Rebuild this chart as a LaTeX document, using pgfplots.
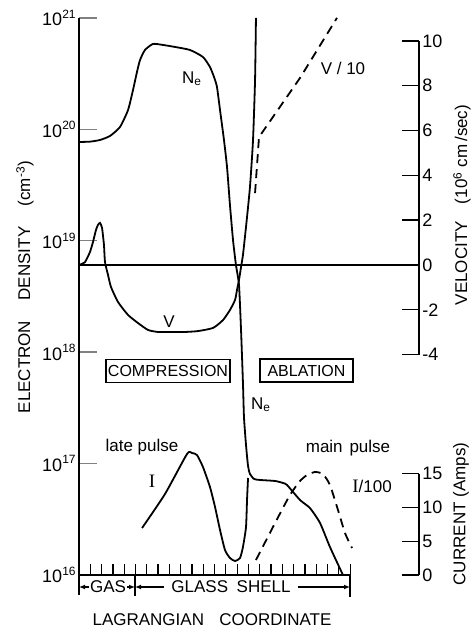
\documentclass[border=0pt]{standalone}
\usepackage{fontspec}
\setmainfont{Liberation Sans}
\newfontfamily\serif{Liberation Serif}
\usepackage{pgfplots}
\pgfplotsset{compat=1.18}
\usetikzlibrary{arrows.meta}

% 1 px of the scan = 0.5pt; x in tick units of the Lagrangian axis
\pgfplotsset{
  frame/.style={scale only axis, width=170pt, height=278.5pt,
    xmin=0, xmax=30.09, clip=false},
  curve/.style={black, line width=0.9pt, no marks, smooth, tension=0.35},
  dline/.style={black, line width=0.9pt, no marks, dash pattern=on 4.5pt off 3pt},
}

\begin{document}
\begin{tikzpicture}[font=\fontsize{8.5}{10}\selectfont]

% electron density (log10 of N_e)
\begin{axis}[frame, name=main, ymin=16, ymax=21,
  axis x line=none, axis y line*=left,
  ytick={16,...,21},
  yticklabels={10\textsuperscript{16},10\textsuperscript{17},10\textsuperscript{18},
    10\textsuperscript{19},10\textsuperscript{20},10\textsuperscript{21}},
  tick align=inside, major tick length=9pt,
  axis line style={line width=0.9pt}, ytick style={line width=0.7pt},
  yticklabel style={font=\fontsize{9}{10}\selectfont, inner sep=1pt}]
\addplot[curve] coordinates {
  (0,19.887) (0.97,19.890) (1.86,19.905) (2.74,19.941) (3.63,20.022)
  (4.34,20.174) (4.78,20.354) (5.13,20.515) (5.40,20.623) (5.84,20.713)
  (6.55,20.767) (7.43,20.758) (8.50,20.740) (9.82,20.713) (10.97,20.650)
  (11.59,20.560) (11.95,20.470) (12.21,20.381) (12.48,20.174) (12.83,19.905)
  (13.10,19.662) (13.36,19.321) (13.63,19.007) (13.89,18.783) (14.16,18.603)
  (14.34,18.199) (14.51,17.723) (14.60,17.418) (14.78,17.167) (14.96,16.978)
  (15.13,16.907) (15.49,16.862) (16.02,16.853) (17.35,16.844) (18.05,16.826)
  (18.41,16.808) (19.56,16.673) (20.44,16.601) (21.33,16.467) (22.21,16.251)
  (23.36,16.0)};
\draw[line width=0.9pt] (axis cs:0,16) -- (axis cs:24,16);
\pgfplotsinvokeforeach{1,...,24}{\draw[line width=0.6pt] (axis cs:#1,16) -- ++(0pt,5.5pt);}
\end{axis}

% velocity (10^6 cm/sec)
\begin{axis}[frame, ymin=-13.839, ymax=11.027, hide axis]
\addplot[black, line width=0.9pt] coordinates {(0,0) (30.09,0)};
\addplot[curve] coordinates {
  (0,0) (0.53,0.13) (0.97,0.58) (1.24,1.03) (1.50,1.56) (1.68,1.79)
  (1.86,1.88) (2.04,1.65) (2.21,0.89) (2.30,0.13) (2.57,-0.45) (2.83,-0.98)
  (3.45,-1.65) (4.34,-2.23) (5.22,-2.59) (6.11,-2.90) (6.99,-2.99)
  (8.14,-2.99) (9.38,-2.99) (10.53,-2.95) (11.86,-2.81) (12.74,-2.46)
  (13.36,-2.01) (13.81,-1.56) (13.98,-1.12) (14.16,-0.67) (14.34,-0.09)
  (14.51,0.45) (14.78,1.70) (15.13,3.48) (15.40,5.58) (15.58,8.26) (15.66,11.03)};
% V/10
\addplot[dline] coordinates {(15.58,3.21) (15.93,5.71) (19.56,8.35) (22.83,11.03)};
\draw[line width=0.9pt] (axis cs:30.09,-4) -- (axis cs:30.09,10);
\pgfplotsinvokeforeach{-4,-2,...,10}{
  \draw[line width=0.7pt] (axis cs:30.09,#1) -- ++(-8.5pt,0pt);
  \node[anchor=west, inner sep=1.5pt, font=\fontsize{9}{10}\selectfont] at (axis cs:30.09,#1) {#1};
}
\end{axis}

% current (Amps)
\begin{axis}[frame, ymin=0, ymax=82.52, hide axis]
% late pulse, I
\addplot[curve] coordinates {
  (5.58,6.96) (7.61,12.0) (9.56,17.93) (10.00,18.07) (10.44,17.78)
  (10.97,16.0) (11.59,13.04) (12.04,10.07) (12.48,6.67) (12.92,3.70)
  (13.36,2.52) (13.81,2.07) (14.25,2.52) (14.51,4.15) (14.78,7.11)
  (14.87,11.11) (14.96,14.37)};
% main pulse, I/100
\addplot[dline, smooth, tension=0.35] coordinates {
  (15.66,2.22) (17.35,7.70) (18.67,11.85) (19.56,13.93) (20.18,14.81)
  (20.88,15.26) (21.59,14.96) (22.21,13.33) (22.92,9.63) (23.54,6.22)
  (24.16,4.0)};
\draw[line width=0.9pt] (axis cs:30.09,0) -- (axis cs:30.09,15);
\pgfplotsinvokeforeach{0,5,10,15}{
  \draw[line width=0.7pt] (axis cs:30.09,#1) -- ++(-8.5pt,0pt);
  \node[anchor=west, inner sep=1.5pt, font=\fontsize{9}{10}\selectfont] at (axis cs:30.09,#1) {#1};
}
\end{axis}

% labels, in scan pixels
\begin{scope}[shift={(main.south west)}, x=0.5pt, y=-0.5pt, shift={(-79,-575)}]
\node[rotate=90] at (25,287) {ELECTRON\hspace{1.2em}DENSITY\hspace{1.2em}(cm\textsuperscript{-3})};
\node[rotate=90] at (462,205) {VELOCITY\hspace{1em}(10\textsuperscript{6} cm\,/sec)};
\node[rotate=90] at (461,514) {CURRENT (Amps)};
\node at (212,620) {LAGRANGIAN\hspace{0.9em}COORDINATE};

\draw[line width=0.9pt] (79,575) -- (79,595);
\draw[line width=0.9pt] (135,575) -- (135,596);
\draw[line width=0.9pt] (350,575) -- (350,597);
\node at (108,587) {GAS};
\draw[line width=0.6pt, -{Latex[length=3pt,width=2.5pt]}] (89,587) -- (79,587);
\draw[line width=0.6pt, -{Latex[length=3pt,width=2.5pt]}] (127,587) -- (135,587);
\node at (231,587) {GLASS\hspace{0.5em}SHELL};
\draw[line width=0.6pt, -{Latex[length=3pt,width=2.5pt]}] (164,587) -- (135,587);
\draw[line width=0.6pt, -{Latex[length=3pt,width=2.5pt]}] (298,587) -- (350,587);

\node[draw, line width=0.9pt, minimum width=62pt, minimum height=11.5pt, inner sep=0pt,
  font=\fontsize{8}{9.6}\selectfont] at (168,371) {COMPRESSION};
\node[draw, line width=0.9pt, minimum width=46.5pt, minimum height=11.5pt, inner sep=0pt,
  font=\fontsize{8}{9.6}\selectfont] at (306.5,370.5) {ABLATION};

\node at (192,79) {N\textsubscript{e}};
\node at (261,405) {N\textsubscript{e}};
\node at (169,322) {V};
\node at (343,68) {V / 10};
\node at (142,447) {late pulse};
\node at (152,481) {\serif\fontsize{9.5}{10}\selectfont I};
\node at (348,448) {main\hspace{0.4em}pulse};
\node at (372,486) {{\serif\fontsize{9.5}{10}\selectfont I}/100};

\pgfresetboundingbox
\path (0,0) rectangle (475,630);
\end{scope}
\end{tikzpicture}
\end{document}
